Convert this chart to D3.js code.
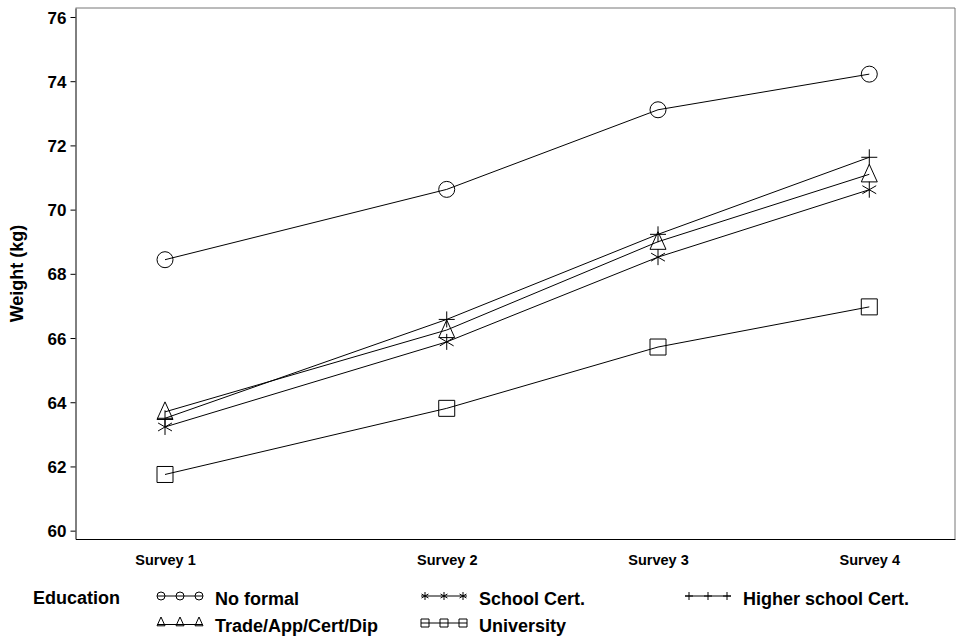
<!DOCTYPE html>
<html>
<head>
<meta charset="utf-8">
<script src="https://cdn.jsdelivr.net/npm/d3@7"></script>
<style>
  html, body { margin: 0; padding: 0; background: #fff; }
  svg { display: block; font-family: "Liberation Sans", Arial, sans-serif; font-weight: bold; }
</style>
</head>
<body>
<svg id="chart" width="964" height="639"></svg>
<script>
// Survey labels and their timing (years from baseline)
const surveys = ["Survey 1", "Survey 2", "Survey 3", "Survey 4"];
const surveyTime = [0, 4, 7, 10];

// Mean weight (kg) by education level
const noFormal     = [68.44, 70.63, 73.11, 74.22];
const tradeApp     = [63.70, 66.25, 69.00, 71.10];
const schoolCert   = [63.23, 65.88, 68.52, 70.62];
const higherSchool = [63.50, 66.58, 69.23, 71.63];
const university   = [61.75, 63.81, 65.72, 66.97];

const yTicks = [60, 62, 64, 66, 68, 70, 72, 74, 76];

const seriesNames = ["No formal", "Trade/App/Cert/Dip", "School Cert.", "University", "Higher school Cert."];
const seriesValues = [noFormal, tradeApp, schoolCert, university, higherSchool];
const seriesSymbols = ["circle", "triangle", "star", "square", "plus"];

const svg = d3.select("#chart");
const plot = { left: 75.5, right: 955, top: 8, bottom: 539 };

const x = d3.scaleLinear().domain([-1.271, 11.217]).range([plot.left, plot.right]);
const y = d3.scaleLinear().domain([59.74, 76.28]).range([plot.bottom, plot.top]);

// Marker path generator (size = half-extent in px)
function symbolPath(type, s, legend) {
  const p = d3.path();
  if (type === "circle") {
    p.moveTo(s, 0); p.arc(0, 0, s, 0, 2 * Math.PI);
  } else if (type === "square") {
    p.rect(-s, -s, 2 * s, 2 * s);
  } else if (type === "triangle") {
    const up = legend ? s * 1.5 : s * 1.25, down = legend ? s * 0.7 : s * 0.95;
    p.moveTo(0, -up); p.lineTo(s, down); p.lineTo(-s, down); p.closePath();
  } else if (type === "plus") {
    p.moveTo(-s, 0); p.lineTo(s, 0); p.moveTo(0, -s); p.lineTo(0, s);
  } else if (type === "star") {
    const dx = s * Math.cos(Math.PI / 6), dy = s * Math.sin(Math.PI / 6);
    p.moveTo(0, -s); p.lineTo(0, s);
    p.moveTo(-dx, -dy); p.lineTo(dx, dy);
    p.moveTo(-dx, dy); p.lineTo(dx, -dy);
  }
  return p.toString();
}

// Frame: top and right edges lighter
svg.append("line").attr("x1", plot.left).attr("x2", plot.right).attr("y1", plot.top).attr("y2", plot.top)
  .attr("stroke", "#777").attr("stroke-width", 1);
svg.append("line").attr("x1", plot.right).attr("x2", plot.right).attr("y1", plot.top).attr("y2", plot.bottom)
  .attr("stroke", "#777").attr("stroke-width", 1);

// Y axis
const yAxis = svg.append("g")
  .attr("transform", `translate(${plot.left},0)`)
  .call(d3.axisLeft(y).tickValues(yTicks).tickSize(5).tickPadding(4).tickSizeOuter(0).tickFormat(d3.format("d")));
yAxis.select(".domain").attr("stroke", "#000");
yAxis.selectAll(".tick line").attr("stroke", "#000");
yAxis.selectAll("text").attr("fill", "#000").style("font-size", "17px").style("font-weight", "bold")
  .style("font-family", "'Liberation Sans', Arial, sans-serif").attr("dy", "0.36em");

// X axis
const xAxis = svg.append("g")
  .attr("transform", `translate(0,${plot.bottom})`)
  .call(d3.axisBottom(x).tickValues(surveyTime).tickSize(0).tickPadding(16).tickSizeOuter(0)
    .tickFormat((d, i) => surveys[i]));
xAxis.select(".domain").attr("stroke", "#000");
xAxis.selectAll("text").attr("fill", "#000").style("font-size", "14.5px").style("font-weight", "bold")
  .style("font-family", "'Liberation Sans', Arial, sans-serif");

// Y axis title
svg.append("text")
  .attr("transform", `translate(23,${(plot.top + plot.bottom) / 2}) rotate(-90)`)
  .attr("text-anchor", "middle")
  .style("font-size", "18px")
  .text("Weight (kg)");

// Lines and markers
const line = d3.line().x((d, i) => x(surveyTime[i])).y(d => y(d));
seriesValues.forEach((vals, k) => {
  svg.append("path").attr("d", line(vals)).attr("fill", "none").attr("stroke", "#000").attr("stroke-width", 1);
  svg.selectAll(null).data(vals).enter().append("path")
    .attr("transform", (d, i) => `translate(${x(surveyTime[i])},${y(d)})`)
    .attr("d", symbolPath(seriesSymbols[k], 8, false))
    .attr("fill", "none").attr("stroke", "#000").attr("stroke-width", 1);
});

// Legend
const legend = svg.append("g");
legend.append("text").attr("x", 33).attr("y", 604).style("font-size", "18px").text("Education");
const colX = [157, 421, 685];
const rowY = [596, 623];
const legendItems = [
  { k: 0, col: 0, row: 0 }, { k: 2, col: 1, row: 0 }, { k: 4, col: 2, row: 0 },
  { k: 1, col: 0, row: 1 }, { k: 3, col: 1, row: 1 }
];
legendItems.forEach(it => {
  const x0 = colX[it.col], yy = rowY[it.row];
  const g = legend.append("g");
  const ly = seriesSymbols[it.k] === "triangle" ? yy + 1.5 : yy;
  g.append("line").attr("x1", x0).attr("x2", x0 + 46).attr("y1", ly).attr("y2", ly)
    .attr("stroke", "#000").attr("stroke-width", 1);
  [4, 23, 42].forEach(dx => {
    g.append("path").attr("transform", `translate(${x0 + dx},${yy})`)
      .attr("d", symbolPath(seriesSymbols[it.k], 4, true))
      .attr("fill", "none").attr("stroke", "#000").attr("stroke-width", 1);
  });
  g.append("text").attr("x", x0 + 58).attr("y", yy + 8.5).style("font-size", "18px").text(seriesNames[it.k]);
});
</script>
</body>
</html>
